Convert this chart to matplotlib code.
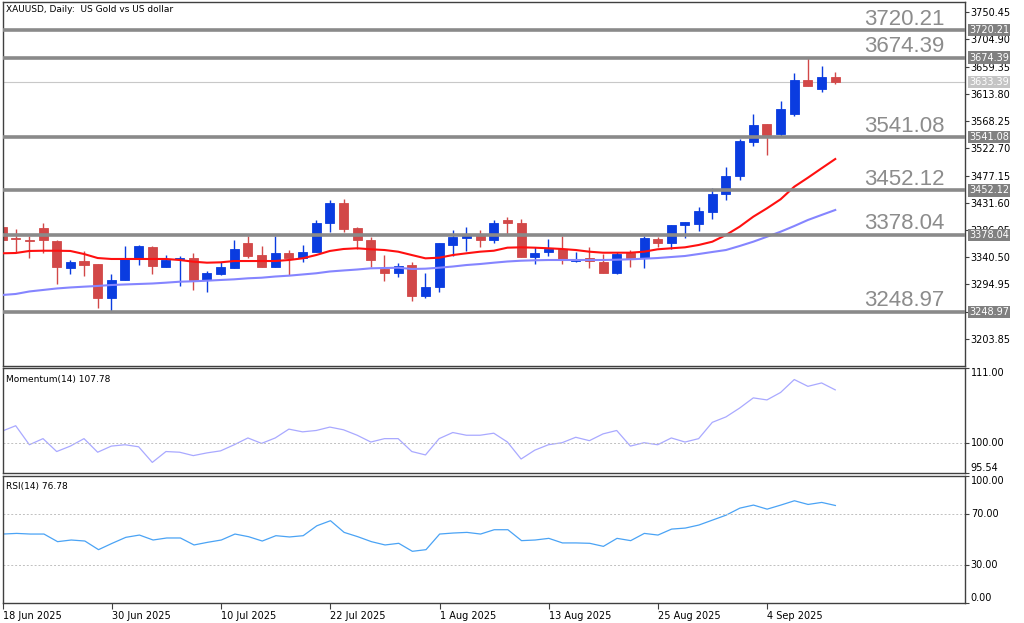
import numpy as np
import matplotlib
matplotlib.use("Agg")
import matplotlib.pyplot as plt
import matplotlib.transforms as mtransforms

# daily bars, 18 Jun 2025 .. 11 Sep 2025
opens = [3391, 3373, 3370, 3389, 3368, 3323, 3334, 3329, 3272, 3302,
         3337, 3358, 3325, 3338, 3340, 3302, 3312, 3323, 3364, 3344,
         3325, 3348, 3339, 3350, 3397, 3432, 3390, 3370, 3321, 3315,
         3327, 3276, 3290, 3361, 3372, 3380, 3369, 3403, 3398, 3341,
         3349, 3354, 3334, 3340, 3333, 3315, 3347, 3340, 3371, 3365,
         3394, 3396, 3416, 3446, 3477, 3533, 3563, 3547, 3580, 3637,
         3621, 3642]
highs = [3395, 3387, 3376, 3398, 3370, 3336, 3351, 3330, 3312, 3359,
         3361, 3360, 3345, 3342, 3347, 3318, 3332, 3369, 3376, 3359,
         3376, 3353, 3361, 3403, 3436, 3438, 3391, 3374, 3345, 3331,
         3333, 3315, 3364, 3386, 3391, 3386, 3403, 3408, 3405, 3358,
         3371, 3376, 3350, 3358, 3346, 3350, 3353, 3376, 3375, 3394,
         3400, 3425, 3456, 3492, 3539, 3580, 3564, 3602, 3649, 3674.39,
         3660, 3651]
lows = [3365, 3350, 3340, 3347, 3295, 3312, 3309, 3256, 3251, 3302,
        3327, 3312, 3325, 3292, 3286, 3282, 3310, 3322, 3340, 3324,
        3324, 3310, 3332, 3350, 3383, 3382, 3355, 3325, 3301, 3308,
        3267, 3273, 3282, 3343, 3351, 3357, 3365, 3380, 3341, 3330,
        3343, 3329, 3332, 3323, 3315, 3312, 3325, 3322, 3358, 3355,
        3373, 3385, 3404, 3437, 3470, 3527, 3511, 3543, 3577, 3626,
        3617, 3630]
closes = [3370, 3371, 3367, 3369, 3324, 3332, 3327, 3273, 3302, 3340,
          3359, 3326, 3336, 3340, 3302, 3314, 3324, 3355, 3343, 3325,
          3348, 3339, 3350, 3397, 3432, 3388, 3369, 3336, 3315, 3326,
          3275, 3290, 3364, 3374, 3380, 3369, 3397, 3397, 3341, 3348,
          3355, 3338, 3336, 3334, 3315, 3346, 3339, 3372, 3365, 3394,
          3400, 3418, 3447, 3476, 3534, 3561, 3545, 3588, 3637, 3627,
          3642, 3633.39]

ma_fast = [3347.1, 3347.6, 3351.0, 3351.4, 3351.4, 3351.0, 3345.9, 3339.2, 3337.6, 3337.6,
           3337.6, 3337.6, 3337.6, 3335.9, 3333.1, 3331.4, 3332.0, 3334.2, 3334.2, 3334.2,
           3334.2, 3335.9, 3338.7, 3344.2, 3351.0, 3354.3, 3355.5, 3353.8, 3352.6, 3349.8,
           3344.2, 3338.7, 3339.7, 3344.2, 3347.1, 3349.8, 3351.4, 3356.5, 3357.1, 3356.5,
           3355.5, 3354.3, 3352.6, 3349.8, 3348.1, 3348.1, 3348.1, 3349.8, 3353.8, 3355.5,
           3357.1, 3361.0, 3366.5, 3377.7, 3391.6, 3408.3, 3422.3, 3437.4, 3458.4, 3473.5,
           3489.2, 3504.7]
ma_slow = [3277.4, 3279.1, 3283.3, 3285.8, 3288.3, 3290.0, 3291.3, 3292.5, 3294.1, 3295.0,
           3295.8, 3296.6, 3298.0, 3299.6, 3300.3, 3301.3, 3302.5, 3303.6, 3305.3, 3306.3,
           3308.3, 3309.7, 3311.7, 3313.7, 3316.7, 3318.4, 3320.0, 3322.0, 3322.5, 3323.0,
           3320.9, 3321.4, 3323.0, 3325.0, 3327.5, 3329.2, 3331.4, 3333.4, 3334.7, 3335.4,
           3335.9, 3335.9, 3335.9, 3335.9, 3335.9, 3336.4, 3337.1, 3338.1, 3339.2, 3340.9,
           3342.6, 3345.9, 3349.3, 3352.6, 3359.3, 3366.5, 3374.8, 3383.2, 3392.7, 3402.8,
           3411.2, 3419.5]

momentum = [101.7, 102.5, 99.7, 100.6, 98.7, 99.5, 100.6, 98.6, 99.5, 99.7,
            99.4, 97.1, 98.7, 98.6, 98.1, 98.5, 98.8, 99.7, 100.7, 99.9,
            100.7, 102.0, 101.6, 101.8, 102.3, 101.9, 101.1, 100.1, 100.6, 100.6,
            98.7, 98.2, 100.6, 101.5, 101.1, 101.1, 101.4, 100.1, 97.6, 98.9,
            99.7, 100.0, 100.8, 100.3, 101.3, 101.8, 99.5, 100.0, 99.7, 100.7,
            100.1, 100.6, 103.0, 103.8, 105.1, 106.6, 106.3, 107.4, 109.3, 108.3,
            108.8, 107.78]
rsi = [54.3, 54.8, 54.3, 54.3, 48.3, 49.6, 48.8, 42.0, 47.0, 51.7,
       53.5, 49.6, 51.2, 51.2, 45.7, 47.8, 49.6, 54.3, 52.2, 48.8,
       53.0, 52.0, 53.0, 60.8, 64.8, 55.6, 52.2, 48.3, 45.7, 47.0,
       40.7, 42.0, 54.3, 55.1, 55.6, 54.3, 57.7, 57.7, 49.1, 49.6,
       50.9, 47.3, 47.3, 47.0, 44.6, 50.9, 49.1, 54.8, 53.5, 58.2,
       59.0, 61.4, 65.3, 69.2, 74.7, 77.1, 73.9, 77.1, 80.5, 77.6,
       79.2, 76.78]

levels = [3720.21, 3674.39, 3541.08, 3452.12, 3378.04, 3248.97]
last_price = 3633.39
price_ticks = [3750.45, 3704.90, 3659.35, 3613.80, 3568.25, 3522.70, 3477.15,
               3431.60, 3386.05, 3340.50, 3294.95, 3249.40, 3203.85]
date_ticks = [0, 8, 16, 24, 32, 40, 48, 56]
date_labels = ["18 Jun 2025", "30 Jun 2025", "10 Jul 2025", "22 Jul 2025",
               "1 Aug 2025", "13 Aug 2025", "25 Aug 2025", "4 Sep 2025"]

BULL = "#0a3ce0"
BEAR = "#d24848"
FRAME = "#404040"

plt.rcParams["font.family"] = ["DejaVu Sans"]

fig = plt.figure(figsize=(10.24, 6.23), dpi=100)
W, H = 1024.0, 623.0
left, width = 3 / W, 962 / W
ax = fig.add_axes([left, 1 - 366 / H, width, 364 / H])
ax_mom = fig.add_axes([left, 1 - 473 / H, width, 105 / H])
ax_rsi = fig.add_axes([left, 1 - 603 / H, width, 127 / H])

x = np.arange(len(closes))
o = np.array(opens, float)
c = np.array(closes, float)
cols = np.where(c >= o, BULL, BEAR)
xlim = (0.07, 70.5)

# candles
ax.vlines(x, lows, highs, colors=cols, lw=1, zorder=2)
ax.bar(x, np.abs(c - o), bottom=np.minimum(o, c), width=0.66,
       color=cols, edgecolor=cols, lw=0.6, zorder=2.5)
ax.plot(x, ma_fast, color="#ff1010", lw=1.5, zorder=3)
ax.plot(x, ma_slow, color="#8585ff", lw=1.5, zorder=3)

ax.axhline(last_price, color="#c8c8c8", lw=0.8, zorder=1)
blend = mtransforms.blended_transform_factory(ax.transAxes, ax.transData)
for lv in levels:
    ax.axhline(lv, color="#8a8a8a", lw=2.6, zorder=4)
    ax.annotate(f"{lv:.2f}", xy=(0.979, lv), xycoords=blend, xytext=(0, 4),
                textcoords="offset points", ha="right", va="baseline",
                fontsize=16, color="#8c8c8c", family=["Liberation Sans"])

ax.set_xlim(*xlim)
ax.set_ylim(3158.7, 3767.2)
ax.yaxis.tick_right()
ax.set_yticks(price_ticks)
ax.set_yticklabels([f"{t:.2f}" for t in price_ticks])
ax.tick_params(axis="y", labelsize=7, length=3, pad=1, color=FRAME)
ax.tick_params(axis="x", bottom=False, labelbottom=False)

for lv in levels:
    ax.text(1.004, lv, f"{lv:.2f}", transform=blend, ha="left", va="center",
            fontsize=7, color="white", clip_on=False, zorder=6,
            bbox=dict(boxstyle="square,pad=0.12", fc="#808080", ec="none"))
ax.text(1.004, last_price, f"{last_price:.2f}", transform=blend, ha="left",
        va="center", fontsize=7, color="white", clip_on=False, zorder=6,
        bbox=dict(boxstyle="square,pad=0.12", fc="#c4c4c4", ec="none"))

ax.text(0.003, 0.992, "XAUUSD, Daily:  US Gold vs US dollar", transform=ax.transAxes,
        ha="left", va="top", fontsize=6.5)

# momentum
ax_mom.plot(x, momentum, color="#a9a9ff", lw=0.9)
ax_mom.axhline(100, color="#c0c0c0", lw=0.7, ls=(0, (2, 2)))
ax_mom.set_xlim(*xlim)
ax_mom.set_ylim(95.54, 111.0)
ax_mom.text(0.003, 0.93, "Momentum(14) 107.78", transform=ax_mom.transAxes,
            ha="left", va="top", fontsize=6.5)

# rsi
ax_rsi.plot(x, rsi, color="#4aa3f5", lw=0.9)
for lv in (70, 30):
    ax_rsi.axhline(lv, color="#c0c0c0", lw=0.7, ls=(0, (2, 2)))
ax_rsi.set_xlim(*xlim)
ax_rsi.set_ylim(0, 100)
ax_rsi.text(0.003, 0.95, "RSI(14) 76.78", transform=ax_rsi.transAxes,
            ha="left", va="top", fontsize=6.5)

ax_rsi.set_xticks(date_ticks)
ax_rsi.set_xticklabels(date_labels, ha="left")
ax_rsi.tick_params(axis="x", labelsize=7, length=4, pad=2, color=FRAME)

for a, vals, vas in [(ax_mom, [111.0, 100.0, 95.54], ["top", "center", "bottom"]),
                     (ax_rsi, [100.0, 70.0, 30.0, 0.0], ["top", "center", "center", "bottom"])]:
    a.yaxis.tick_right()
    a.set_yticks(vals)
    a.set_yticklabels([])
    a.tick_params(axis="y", length=3, color=FRAME)
    if a is ax_mom:
        a.tick_params(axis="x", bottom=False, labelbottom=False)
    bt = mtransforms.blended_transform_factory(a.transAxes, a.transData)
    for v, va in zip(vals, vas):
        a.text(1.006, v, f"{v:.2f}", transform=bt, ha="left", va=va,
               fontsize=7, clip_on=False)

for a in (ax, ax_mom, ax_rsi):
    for s in a.spines.values():
        s.set_color(FRAME)
        s.set_linewidth(1)

fig.savefig("out.png", dpi=100)
